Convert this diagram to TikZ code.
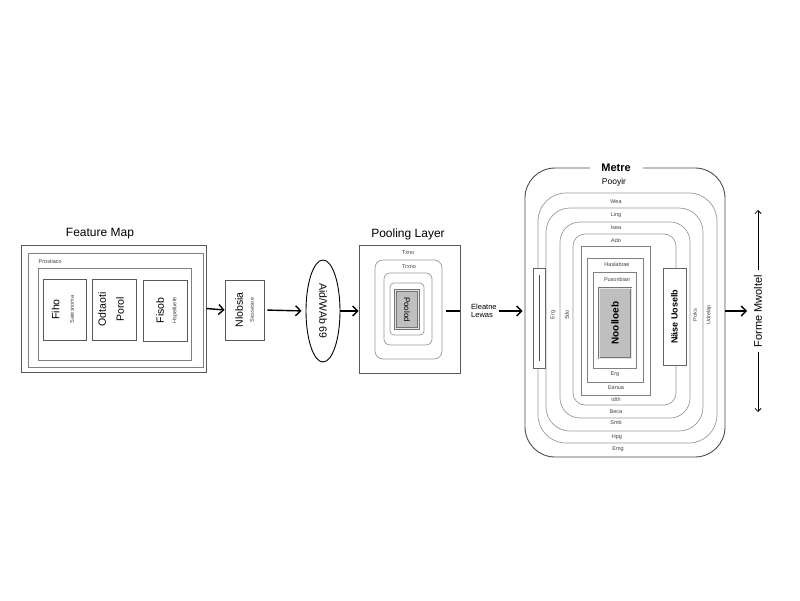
\documentclass[tikz,border=0pt]{standalone}
\usepackage{fontspec}
\setmainfont{Liberation Sans}
\usetikzlibrary{arrows.meta,positioning,shapes.geometric}
\tikzset{
  fbox/.style = {draw=black!65, line width=0.9pt, fill=white, inner sep=0pt},
  sbox/.style = {draw=black!50, line width=0.8pt, inner sep=0pt},
  rbox/.style = {draw=black!40, line width=0.7pt, rounded corners=#1, inner sep=0pt},
  gbox/.style = {draw=black!55, fill=black!25, line width=0.8pt, double=black!10, double distance=0.8pt, inner sep=0pt},
  tag/.style = {font=\fontsize{5.5}{6.5}\selectfont, text=black!75, inner sep=0.5pt},
  big/.style = {font=\fontsize{10.5}{11.5}\selectfont, inner sep=0.5pt},
  head/.style = {font=\fontsize{12}{14}\selectfont, inner sep=0pt},
  arrow/.style = {line width=1.4pt, -{Straight Barb[length=5pt, width=10pt]}},
  tip/.style = {line width=0.8pt, -{Straight Barb[length=3pt, width=6pt]}}
}

\begin{document}
\begin{tikzpicture}[x=1pt, y=-1pt]
  \useasboundingbox (0,0) rectangle (800,600);
  % feature map
  \node[fbox, minimum width=185pt, minimum height=127pt] (fmo) at (113.5,308.5) {};
  \node[sbox, minimum width=175pt, minimum height=114pt] (fmi) at (115.5,310) {};
  \node[sbox, minimum width=153pt, minimum height=92pt] (fmc) at (114.5,314) {};
  \node[head] (fmt) at (100,234) {Feature Map};
  \node[tag, anchor=west] (fml) at (38,262) {Prostiaco};
  \node[fbox, minimum width=43pt, minimum height=61pt] (fa) at (64.5,309.5) {};
  \node[fbox, minimum width=44pt, minimum height=61pt] (fb) at (114,309.5) {};
  \node[fbox, minimum width=44pt, minimum height=61pt] (fc) at (165,310.5) {};
  \node[big, rotate=90] (fat) at ([xshift=-9pt]fa.center) {Fiho};
  \node[tag, rotate=90] (fas) at ([xshift=7.5pt]fa.center) {Saresnoma};
  \node[big, rotate=90] (fbt) at ([xshift=-12pt]fb.center) {Odtaoti};
  \node[big, rotate=90] (fbs) at ([xshift=6pt]fb.center) {Porol};
  \node[big, rotate=90] (fct) at ([xshift=-5pt]fc.center) {Fisob};
  \node[tag, rotate=90] (fcs) at ([xshift=10pt]fc.center) {Hspeifuefe};
  % middle
  \node[fbox, minimum width=39pt, minimum height=60pt] (nb) at (244.5,310) {};
  \node[big, rotate=90] (nbt) at ([xshift=-5.5pt]nb.center) {Nlobsia};
  \node[tag, rotate=90] (nbs) at ([xshift=7.5pt]nb.center) {Sessesoe};
  \node[ellipse, draw=black, line width=0.9pt, minimum width=34pt, minimum height=102pt, inner sep=0pt] (el) at (323,311) {};
  \node[big, rotate=-90] (elt) at (el.center) {Aid/WAb 69};
  % pooling layer
  \node[fbox, minimum width=101pt, minimum height=128pt] (pl) at (409.5,309) {};
  \node[head] (plt) at (408,234) {Pooling Layer};
  \node[rbox=8pt, minimum width=67pt, minimum height=99pt] (pa) at (408.5,309.5) {};
  \node[rbox=6pt, minimum width=48pt, minimum height=72pt] (pb) at (408,309) {};
  \node[rbox=4pt, minimum width=34pt, minimum height=52pt] (pc) at (407,309) {};
  \node[gbox, minimum width=23pt, minimum height=38pt] (pg) at (407,309.5) {};
  \node[font=\fontsize{8}{9}\selectfont, rotate=-90, inner sep=0pt] (pgt) at (pg.center) {Poolod};
  \node[tag] (pat) at (408,253) {Txno};
  \node[tag] (pbt) at (409,267) {Trxno};
  \coordinate (pd) at (446,311);
  \node[font=\fontsize{7.5}{8.5}\selectfont, align=left, anchor=west, inner sep=0pt] (ew) at (471,311) {Eleatne\\Lewas};
  % right panel
  \node[rbox=30pt, draw=black!70, line width=0.9pt, minimum width=200pt, minimum height=289pt] (rf0) at (625,312.5) {};
  \node[rbox=28pt, minimum width=179pt, minimum height=250pt] (rf1) at (627.5,318) {};
  \node[rbox=24pt, minimum width=157pt, minimum height=223pt] (rf2) at (624.5,319.5) {};
  \node[rbox=20pt, minimum width=130pt, minimum height=196pt] (rf3) at (625,320) {};
  \node[rbox=12pt, minimum width=103pt, minimum height=171pt] (rf4) at (624.5,319.5) {};
  \node[sbox, minimum width=69pt, minimum height=149pt] (rs1) at (615.5,320.5) {};
  \node[sbox, minimum width=56pt, minimum height=124pt] (rs2) at (615,320) {};
  \node[sbox, minimum width=43pt, minimum height=96pt] (rs3) at (614.5,320) {};
  \node[gbox, minimum width=32pt, minimum height=70pt] (rg) at (615,323) {};
  \node[font=\fontsize{10}{11}\selectfont\bfseries, rotate=90, inner sep=0pt] (rgt) at (rg.center) {Noolloeb};
  \node[font=\fontsize{11}{12}\selectfont\bfseries, fill=white, minimum width=53pt, inner sep=1pt] (rft) at (616,168) {Metre};
  \node[font=\fontsize{8.5}{9.5}\selectfont, inner sep=0pt] (rfs) at (614,182) {Pooyir};
  \node[tag] (ra) at (616,202) {Wea};
  \node[tag] (rb) at (616,215) {Ling};
  \node[tag] (rc) at (616,228) {Isea};
  \node[tag] (rd) at (616,241) {Ado};
  \node[tag] (re) at (617,265) {Haslabrae};
  \node[tag] (rf) at (617,280) {Pusonbian};
  \node[tag] (rh) at (615,374) {Erg};
  \node[tag] (ri) at (616,388) {Eanua};
  \node[tag] (rj) at (616,400) {Idth};
  \node[tag] (rk) at (616,412) {Beca};
  \node[tag] (rl) at (616,423) {Smb};
  \node[tag] (rm) at (617,437) {Hpg};
  \node[tag] (rn) at (618,449) {Emg};
  \node[fbox, draw=black!60, line width=0.8pt, minimum width=12pt, minimum height=100pt] (lb) at (539,318) {};
  \draw[black!70, line width=0.8pt] ([yshift=-7pt]lb.north) -- ([yshift=7pt]lb.south);
  \node[tag, rotate=90] (lbt) at (553,315) {Erg};
  \node[tag, rotate=90] (lbs) at (567,315) {Sdo};
  \node[fbox, draw=black!60, line width=0.8pt, minimum width=23pt, minimum height=97pt] (rbx) at (674.5,316.5) {};
  \node[font=\fontsize{9}{10}\selectfont\bfseries, rotate=90, inner sep=0pt] (rbt) at (rbx.center) {Näse Uoselb};
  \node[tag, rotate=90] (rbp) at (695,315) {Poks};
  \node[tag, rotate=90] (rbq) at (709,315) {Udrelap};
  % output
  \coordinate (oe) at (747,311);
  \coordinate (dt) at (758,210);
  \coordinate (db) at (758,412);
  \node[font=\fontsize{11}{12}\selectfont, rotate=90, fill=white, inner xsep=5pt, inner ysep=1pt] (fmw) at (758,311) {Forme Mwoltel};
  % arrows
  \draw[arrow] (fmo.east) -- (nb.west);
  \draw[arrow, shorten <=3pt, shorten >=4pt] (nb.east) -- (el.west);
  \draw[arrow] (el.east) -- (el.east -| pl.west);
  \draw[line width=1.2pt] (pd) -- (pd -| pl.east);
  \draw[arrow, shorten <=2pt, shorten >=2pt] (ew.east) -- (ew.east -| rf0.west);
  \draw[arrow] (oe -| rf0.east) -- (oe);
  \draw[tip] (fmw.east) -- (dt);
  \draw[tip] (fmw.west) -- (db);
\end{tikzpicture}
\end{document}
